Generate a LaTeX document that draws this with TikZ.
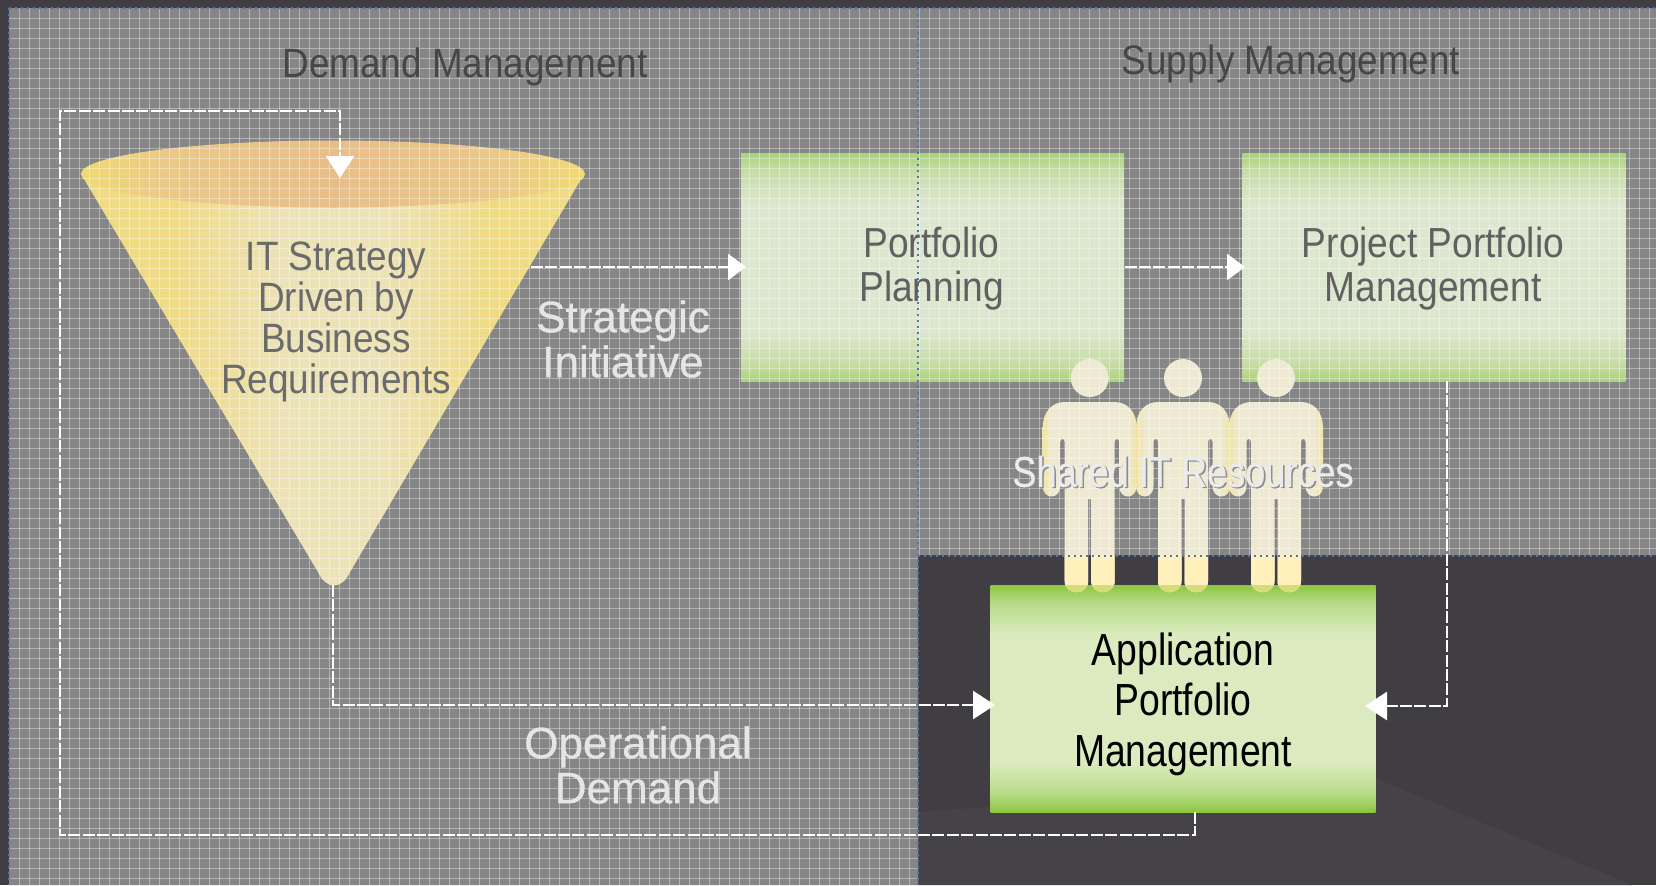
\documentclass[tikz,border=0pt]{standalone}
\usepackage{fontspec}
\setmainfont{Liberation Sans}
\newfontfamily\boxfont[FakeStretch=0.884]{Liberation Sans}
\newfontfamily\appfont[FakeStretch=0.83]{Liberation Sans}
\newfontfamily\funfont[FakeStretch=0.9]{Liberation Sans}
\newfontfamily\titlefont[FakeStretch=0.9]{Liberation Sans}
\newfontfamily\labfont[FakeBold=0.7]{Liberation Sans}
\newfontfamily\sharefont[FakeStretch=0.84,FakeBold=0.4]{Liberation Sans}
\usetikzlibrary{arrows.meta}
\definecolor{bgdark}{HTML}{403E42}
\definecolor{bglight}{HTML}{454347}
\definecolor{panel}{HTML}{868686}
\definecolor{dotblue}{HTML}{4F74B8}
\definecolor{greenA}{HTML}{AAD27A}
\definecolor{greenAb}{HTML}{C8DDA8}
\definecolor{greenB}{HTML}{DDE6CE}
\definecolor{greenC}{HTML}{8CC63F}
\definecolor{greenCb}{HTML}{B8DA88}
\definecolor{greenD}{HTML}{DBEBBF}
\definecolor{fEdge}{HTML}{EFDB84}
\definecolor{fMid}{HTML}{ECE2B8}
\definecolor{eEdge}{HTML}{F0DA74}
\definecolor{eMid}{HTML}{E8BE88}
\definecolor{eQuarter}{HTML}{E9C888}
\definecolor{pEdge}{HTML}{F0E4A4}
\definecolor{pMid}{HTML}{EEE9D3}
\definecolor{footA}{HTML}{FFF0BC}
\definecolor{footB}{HTML}{D6DC78}
\pgfdeclareverticalshading{boxWashed}{100bp}{color(0bp)=(greenA); color(25bp)=(greenA); color(29bp)=(greenAb); color(36bp)=(greenB); color(64bp)=(greenB); color(71bp)=(greenAb); color(75bp)=(greenA); color(100bp)=(greenA)}
\pgfdeclareverticalshading{boxVivid}{100bp}{color(0bp)=(greenC); color(25bp)=(greenC); color(29bp)=(greenCb); color(36bp)=(greenD); color(64bp)=(greenD); color(71bp)=(greenCb); color(75bp)=(greenC); color(100bp)=(greenC)}
\pgfdeclarehorizontalshading{funnelBody}{100bp}{color(0bp)=(fEdge); color(25bp)=(fEdge); color(34bp)=(fEdge); color(45bp)=(fMid); color(55bp)=(fMid); color(66bp)=(fEdge); color(75bp)=(fEdge); color(100bp)=(fEdge)}
\pgfdeclarehorizontalshading{funnelTop}{100bp}{color(0bp)=(eEdge); color(25bp)=(eEdge); color(34bp)=(eQuarter); color(50bp)=(eMid); color(66bp)=(eQuarter); color(75bp)=(eEdge); color(100bp)=(eEdge)}
\pgfdeclarehorizontalshading{personBody}{100bp}{color(0bp)=(pEdge); color(25bp)=(pEdge); color(30bp)=(pMid); color(70bp)=(pMid); color(75bp)=(pEdge); color(100bp)=(pEdge)}
\tikzset{
  wbox/.style={shading=boxWashed,minimum width=191.7pt,minimum height=114pt,inner sep=0pt},
  wtext/.style={inner sep=0pt,align=center,text=black!62,font=\boxfont\fontsize{21pt}{22pt}\selectfont},
  vbox/.style={shading=boxVivid,minimum width=192.5pt,minimum height=113.5pt,inner sep=0pt},
  vtext/.style={inner sep=0pt,align=center,text=black,font=\appfont\fontsize{22.5pt}{25.3pt}\selectfont},
  title/.style={text=black!72,inner sep=0pt,font=\titlefont\fontsize{20.5pt}{21pt}\selectfont},
  lab/.style={text=white!90!black,inner sep=0pt,align=center,font=\labfont\fontsize{22pt}{22.5pt}\selectfont},
  flow/.style={draw=white,line width=1.4pt,dash pattern=on 6pt off 1.2pt,
     -{Triangle[length=11pt,width=14pt,fill=white,sep=0pt]}},
  flowshort/.style={flow,-{Triangle[length=9pt,width=13pt,fill=white,sep=0pt]}},
  dots/.style={draw=dotblue,line width=1pt,dash pattern=on 1pt off 2pt},
}
\newcommand{\manpath}{
  (-25,402) -- (25,402) .. controls (38,402) and (47,412) .. (47,428) -- (47,486)
  .. controls (47,500) and (29.5,500) .. (29.5,486) -- (29.5,442)
  .. controls (29.5,438) and (25,438) .. (25,442) -- (25,581)
  .. controls (25,596) and (1.5,596) .. (1.5,581) -- (1.5,499) -- (-1.5,499) -- (-1.5,581)
  .. controls (-1.5,596) and (-25,596) .. (-25,581) -- (-25,442)
  .. controls (-25,438) and (-29.5,438) .. (-29.5,442) -- (-29.5,486)
  .. controls (-29.5,500) and (-47,500) .. (-47,486) -- (-47,428)
  .. controls (-47,412) and (-38,402) .. (-25,402) -- cycle
}
\newcommand{\oneman}[1]{
  \begin{scope}[xshift=#1*0.5pt]
    \shade[shading=personBody] \manpath;
    \fill[pMid] (0,378) circle (19);
  \end{scope}
  \begin{scope}
    \clip (900,555) rectangle (1500,585);
    \fill[footA,xshift=#1*0.5pt] \manpath;
  \end{scope}
  \begin{scope}
    \clip (900,585) rectangle (1500,620);
    \fill[footB,xshift=#1*0.5pt] \manpath;
  \end{scope}
}
\begin{document}
\begin{tikzpicture}[x=0.5pt,y=-0.5pt]
\useasboundingbox (0,0) rectangle (1656,885);
\fill[bgdark] (0,0) rectangle (1656,885);
\fill[bglight] (1375,778) -- (1632,885) -- (918,885) -- (918,812) -- cycle;
\fill[panel] (9,8) -- (1656,8) -- (1656,555) -- (918,555) -- (918,885) -- (9,885) -- cycle;

% funnel
\shade[shading=funnelBody] (81,174) -- (318,572) .. controls (326,590) and (342,590) .. (350,572) -- (584,174) -- cycle;
\shade[shading=funnelTop] (333,174) ellipse (252 and 33.5);

% boxes
\node[wbox] (pp) at (932.5,267) {};
\node[wbox] (pj) at (1434,267) {};
\node[vbox] (app) at (1183,698.5) {};

% people
\oneman{1089.7}
\oneman{1183}
\oneman{1276}

% grid overlay on the light panel
\begin{scope}
  \clip (9,8) -- (1656,8) -- (1656,555) -- (918,555) -- (918,885) -- (9,885) -- cycle;
  \foreach \x in {19,29,...,1656} \draw[white,opacity=.36,line width=.5pt] (\x,8) -- (\x,885);
  \foreach \y in {18,28,...,885} \draw[white,opacity=.36,line width=.5pt] (9,\y) -- (1656,\y);
\end{scope}

% dotted guides
\coordinate (gTL) at (9,8);
\coordinate (gTR) at (1656,8);
\coordinate (gBL) at (9,885);
\coordinate (gMT) at (918,8);
\coordinate (gMB) at (918,885);
\coordinate (gHL) at (918,556);
\coordinate (gHR) at (1656,556);
\draw[dots] (gTL) -- (gTR);
\draw[dots] (gTL) -- (gBL);
\draw[dots] (gMT) -- (gMB);
\draw[dots] (gHL) -- (gHR);

% labels
\node[title] (tD) at (465,67) {Demand Management};
\node[title] (tS) at (1291,64) {Supply Management};
\node[inner sep=0pt,align=center,text=black!58,font=\funfont\fontsize{20.5pt}{20.5pt}\selectfont] (fn) at (336,322) {IT Strategy\\Driven by\\Business\\Requirements};
\node[wtext] (ppt) at (931.5,269) {Portfolio\\Planning};
\node[wtext] (pjt) at (1433,269) {Project Portfolio\\Management};
\node[vtext] (appt) at (1183,704) {Application\\Portfolio\\Management};
\node[lab] (si) at (623,339) {Strategic\\Initiative};
\node[lab] (od) at (638,765) {Operational\\Demand};
\node[text=white!92!black,inner sep=0pt,font=\sharefont\fontsize{21.5pt}{22pt}\selectfont] (sr) at (1183,472) {\makebox[0pt][l]{\raisebox{-0.6pt}{\hspace{0.8pt}\textcolor{black!45}{Shared IT Resources}}}Shared IT Resources};

% connectors
\coordinate (fTop) at (340,178);
\coordinate (fRight) at (531,267);
\coordinate (fBottom) at (333,585);
\coordinate (appB) at (1195,812);
\coordinate (appL) at (995,705);
\coordinate (appR) at (1365,706);
\coordinate (ppIn) at (746,267);
\coordinate (pjIn) at (1245,267);
\coordinate (pjB) at (1447,381);
\coordinate (loopA) at (1195,835);
\coordinate (loopB) at (60,835);
\coordinate (loopC) at (60,111);
\coordinate (loopD) at (340,111);
\draw[flowshort] (fRight) -- (ppIn);
\draw[flowshort] (pp.east) -- (pjIn);
\draw[flow] (pjB) |- (appR);
\draw[flow] (fBottom) |- (appL);
\draw[flow] (appB) -- (loopA) -- (loopB) -- (loopC) -- (loopD) -- (fTop);
\end{tikzpicture}
\end{document}
